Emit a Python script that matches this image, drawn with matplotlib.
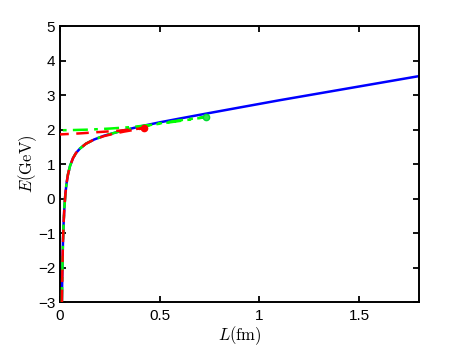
import matplotlib
matplotlib.use("Agg")
import matplotlib.pyplot as plt

plt.rcParams['font.family'] = ['Liberation Sans', 'DejaVu Sans']
plt.rcParams['mathtext.fontset'] = 'cm'

# Blue solid curve
L_blue = [0.0095, 0.011, 0.013, 0.015, 0.018, 0.022, 0.027, 0.033, 0.04, 0.05, 0.065,
          0.08, 0.1, 0.13, 0.17, 0.22, 0.3, 0.4, 0.5, 0.6, 0.73, 0.9, 1.1, 1.3, 1.5, 1.8]
E_blue = [-3.0, -2.35, -1.71, -1.23, -0.72, -0.25, 0.14, 0.45, 0.70, 0.94, 1.17,
          1.32, 1.45, 1.59, 1.71, 1.82, 1.95, 2.09, 2.21, 2.32, 2.46, 2.64, 2.85, 3.05, 3.25, 3.55]

# Red dashed: lower branch then upper branch (meeting at the red dot)
L_red_low = [0.0095, 0.011, 0.013, 0.015, 0.018, 0.022, 0.027, 0.033, 0.04, 0.05, 0.065,
             0.08, 0.1, 0.13, 0.17, 0.22, 0.27, 0.32, 0.37, 0.42]
E_red_low = [-3.0, -2.35, -1.71, -1.23, -0.72, -0.25, 0.14, 0.45, 0.70, 0.94, 1.17,
             1.32, 1.45, 1.59, 1.71, 1.81, 1.88, 1.94, 1.99, 2.04]
L_red_up = [0.42, 0.35, 0.3, 0.2, 0.1, 0.0]
E_red_up = [2.04, 2.0, 1.97, 1.93, 1.89, 1.86]
red_dot = (0.42, 2.04)

# Green dash-dot: lower branch then upper branch (meeting at the green dot)
L_green_low = [0.0095, 0.011, 0.013, 0.015, 0.018, 0.022, 0.027, 0.033, 0.04, 0.05, 0.065,
               0.08, 0.1, 0.13, 0.17, 0.22, 0.3, 0.4, 0.5, 0.6, 0.67, 0.73]
E_green_low = [-3.0, -2.35, -1.71, -1.23, -0.72, -0.25, 0.14, 0.45, 0.70, 0.94, 1.17,
               1.32, 1.45, 1.59, 1.71, 1.82, 1.95, 2.08, 2.18, 2.27, 2.32, 2.36]
L_green_up = [0.73, 0.65, 0.55, 0.45, 0.35, 0.25, 0.15, 0.05, 0.0]
E_green_up = [2.36, 2.29, 2.21, 2.13, 2.07, 2.03, 2.0, 1.985, 1.98]
green_dot = (0.73, 2.36)

x_ticks = [0, 0.5, 1, 1.5]
x_ticklabels = ['0', '0.5', '1', '1.5']
y_ticks = [-3, -2, -1, 0, 1, 2, 3, 4, 5]

fig = plt.figure(figsize=(4.63, 3.48), dpi=100)
ax = fig.add_axes([0.1296, 0.132, 0.7754, 0.793])

ax.plot(L_blue, E_blue, color=(0, 0, 1), lw=1.8, zorder=2)
ax.plot(L_green_low + L_green_up, E_green_low + E_green_up, color=(0, 1, 0), lw=1.8,
        linestyle=(0, (6, 2.5, 1.5, 2.5)), zorder=3)
ax.plot(L_red_low + L_red_up, E_red_low + E_red_up, color=(1, 0, 0), lw=1.8,
        linestyle=(0, (5, 3)), zorder=4)
ax.plot([red_dot[0]], [red_dot[1]], 'o', color=(1, 0, 0), ms=4.5, zorder=5)
ax.plot([green_dot[0]], [green_dot[1]], 'o', color=(0, 0.85, 0.2), mfc=(0.2, 0.9, 0.3), ms=4.5, zorder=5)

ax.set_xlim(0, 1.8)
ax.set_ylim(-3, 5)
ax.set_xticks(x_ticks)
ax.set_xticklabels(x_ticklabels)
ax.set_yticks(y_ticks)
ax.tick_params(direction='in', top=True, right=True, length=4, width=1.3, labelsize=11)
ax.tick_params(axis='x', pad=5)
for s in ax.spines.values():
    s.set_linewidth(1.4)
ax.set_xlabel(r'$L(\mathrm{fm})$', fontsize=12, labelpad=1)
ax.set_ylabel(r'$E(\mathrm{GeV})$', fontsize=12, labelpad=-1)

fig.savefig('out.png', dpi=100)
